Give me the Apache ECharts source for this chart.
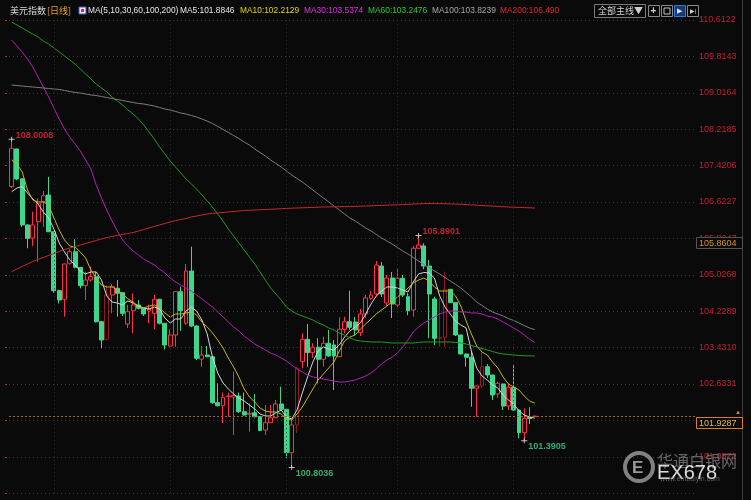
<!DOCTYPE html>
<html><head><meta charset="utf-8">
<script src="https://cdn.jsdelivr.net/npm/echarts@6/dist/echarts.min.js"></script>
<style>html,body{margin:0;padding:0;background:#0a0a0a;}#c{width:751px;height:500px;}</style>
</head><body><div id="c"></div>
<script>
// ---- data ----
const opens = [106.96,107.785,107.13,106.12,105.83,106.19,106.63,106.776,105.97,104.68,
104.49,105.28,105.533,105.19,104.79,104.913,104.985,104.00,103.613,104.584,
104.731,104.635,103.948,104.24,104.365,104.293,104.234,104.183,104.49,103.964,
103.466,103.707,104.657,103.964,105.11,103.905,103.18,103.268,103.231,102.223,
102.158,102.355,102.348,102.37,102.026,101.969,102.004,101.917,101.625,101.785,
101.895,102.195,102.079,101.128,101.734,103.122,103.613,103.32,103.438,103.175,
103.526,103.49,103.231,103.832,103.999,103.993,103.758,104.168,104.512,104.606,
105.219,104.409,104.957,104.365,104.95,104.547,104.255,105.608,105.66,105.219,
104.497,103.635,103.657,104.709,104.417,103.708,103.291,103.218,102.539,102.59,
103.012,102.831,102.414,102.633,102.15,102.561,102.063,101.566,101.903,101.92];
const closes = [107.80,107.127,106.12,105.827,106.12,106.594,106.76,105.97,104.678,104.475,
105.264,105.533,105.191,104.788,104.913,104.985,103.999,103.598,104.584,104.766,
104.621,104.183,104.218,104.365,104.293,104.168,104.266,104.49,103.964,103.488,
103.707,104.657,104.24,105.11,103.905,103.197,103.268,103.231,102.223,102.158,
102.342,102.37,102.381,102.026,101.954,101.991,101.917,101.614,101.785,101.895,
102.195,102.079,101.128,101.734,102.978,103.613,103.32,103.438,103.175,103.526,
103.247,103.247,103.832,103.999,103.876,103.817,104.168,104.52,104.584,105.241,
104.606,104.957,104.387,104.95,104.584,104.24,105.608,105.68,105.219,104.606,
103.635,103.657,104.709,104.417,103.708,103.291,103.218,102.539,102.59,103.012,
102.831,102.392,102.649,102.15,102.561,102.063,101.566,101.88,101.873,101.9287];
const lows = [106.93,107.10,106.075,105.608,105.66,105.314,106.08,105.965,104.635,104.40,
104.109,105.25,105.17,104.73,104.475,104.88,103.98,103.416,103.59,104.183,
104.109,104.124,103.86,103.745,104.27,104.124,103.964,103.832,103.94,103.393,
103.45,103.45,103.80,103.93,103.88,103.16,103.01,103.22,102.20,102.14,
101.772,101.917,101.515,102.0,101.94,101.588,101.90,101.60,101.515,101.78,
101.88,102.06,101.005,100.8036,101.56,102.978,103.012,103.203,102.649,103.012,
103.23,102.502,103.225,103.744,103.817,103.70,103.685,104.08,104.475,104.56,
104.54,104.343,104.08,104.32,104.54,104.14,104.11,105.60,105.147,103.635,
103.488,103.45,103.45,104.41,103.685,103.28,103.012,102.136,101.917,102.546,
102.764,102.283,102.326,102.063,102.063,102.04,101.443,101.3905,101.756,101.92];
const highs = [108.0008,107.79,107.14,106.13,106.41,106.70,106.864,107.177,105.975,104.70,
105.27,105.586,105.805,105.2,105.095,105.205,105.095,104.0,104.80,104.825,
104.913,104.65,104.37,104.62,104.47,104.30,104.37,104.584,104.50,103.97,
103.832,104.66,104.766,105.264,105.643,103.92,103.466,103.466,103.24,102.649,
102.446,102.446,102.903,102.446,102.446,102.21,102.414,101.93,102.173,102.173,
102.283,102.574,102.09,101.844,103.012,103.744,103.948,103.526,103.635,103.67,
103.817,103.598,104.096,104.109,104.678,104.10,104.28,104.584,104.672,105.33,
105.307,105.023,105.088,105.169,105.023,104.628,105.66,105.8901,105.717,105.35,
104.547,104.519,105.095,104.716,104.42,103.71,103.30,103.335,102.60,103.341,
103.07,102.84,102.683,102.64,102.649,103.05,102.07,102.10,102.123,101.94];

const ma5 = [106.848,106.929,106.962,106.820,106.688,106.579,106.403,106.272,106.031,105.724,
105.527,105.351,105.242,105.110,105.045,105.089,105.089,104.913,104.563,104.431,
104.409,104.365,104.453,104.409,104.343,104.299,104.277,104.321,104.277,104.080,
103.970,104.058,104.058,104.233,104.321,104.233,104.036,103.729,103.225,102.874,
102.655,102.524,102.414,102.327,102.261,102.173,102.085,101.976,101.932,101.932,
101.998,102.063,101.910,101.866,102.063,102.436,102.787,103.116,103.357,103.444,
103.400,103.379,103.488,103.663,103.795,103.883,103.970,104.168,104.387,104.562,
104.672,104.759,104.760,104.738,104.694,104.650,104.869,105.045,105.078,105.067,
104.957,104.563,104.321,104.168,104.014,103.927,103.861,103.357,102.984,102.809,
102.721,102.611,102.546,102.392,102.283,102.195,102.041,101.954,101.910,101.8846];
const ma10 = [107.543,107.456,107.280,106.886,106.667,106.623,106.623,106.557,106.272,106.009,
105.790,105.658,105.636,105.527,105.395,105.132,104.957,104.803,104.760,104.760,
104.694,104.606,104.497,104.431,104.321,104.299,104.343,104.365,104.299,104.190,
104.102,104.168,104.168,104.190,104.212,104.146,103.992,103.883,103.751,103.598,
103.422,103.203,103.006,102.787,102.524,102.348,102.239,102.107,102.041,102.019,
102.019,101.976,101.866,101.844,101.976,102.129,102.327,102.524,102.721,102.853,
102.984,103.116,103.357,103.576,103.663,103.707,103.839,103.948,104.058,104.168,
104.255,104.343,104.431,104.541,104.628,104.738,104.847,104.913,104.957,104.891,
104.760,104.672,104.672,104.672,104.563,104.343,104.014,103.729,103.466,103.335,
103.269,103.116,102.984,102.787,102.633,102.567,102.502,102.370,102.261,102.2129];
const ma30 = [110.174,110.042,109.911,109.757,109.582,109.363,109.144,108.924,108.683,108.442,
108.223,108.047,107.894,107.741,107.543,107.346,106.995,106.710,106.447,106.206,
105.987,105.790,105.658,105.549,105.461,105.373,105.307,105.242,105.154,105.066,
104.957,104.869,104.803,104.738,104.672,104.584,104.497,104.409,104.321,104.212,
104.102,103.992,103.883,103.795,103.685,103.598,103.510,103.444,103.379,103.313,
103.269,103.203,103.137,103.050,102.962,102.896,102.831,102.787,102.765,102.743,
102.721,102.699,102.677,102.677,102.699,102.721,102.765,102.809,102.874,102.962,
103.072,103.159,103.225,103.313,103.444,103.598,103.773,103.883,103.970,104.036,
104.102,104.168,104.212,104.233,104.233,104.212,104.212,104.190,104.190,104.168,
104.124,104.102,104.058,103.992,103.927,103.861,103.795,103.707,103.620,103.5374];
const ma60 = [110.568,110.503,110.437,110.371,110.305,110.240,110.152,110.086,109.998,109.911,
109.823,109.735,109.648,109.538,109.429,109.319,109.209,109.122,109.034,108.924,
108.837,108.749,108.639,108.552,108.442,108.311,108.157,108.004,107.828,107.675,
107.522,107.390,107.259,107.127,107.017,106.908,106.776,106.645,106.513,106.360,
106.206,106.031,105.877,105.724,105.571,105.417,105.264,105.089,104.913,104.738,
104.606,104.475,104.321,104.233,104.168,104.124,104.080,104.036,103.970,103.927,
103.861,103.817,103.751,103.707,103.642,103.598,103.576,103.565,103.554,103.554,
103.554,103.543,103.532,103.532,103.532,103.532,103.532,103.543,103.554,103.554,
103.554,103.554,103.554,103.554,103.543,103.532,103.510,103.477,103.444,103.411,
103.379,103.346,103.313,103.291,103.280,103.269,103.258,103.253,103.250,103.2476];
const ma100 = [109.187,109.176,109.165,109.154,109.144,109.133,109.122,109.111,109.100,109.089,
109.067,109.045,109.023,109.012,108.990,108.968,108.957,108.935,108.913,108.891,
108.870,108.848,108.826,108.804,108.782,108.771,108.749,108.727,108.694,108.661,
108.639,108.607,108.574,108.552,108.519,108.486,108.442,108.398,108.343,108.278,
108.212,108.146,108.080,108.015,107.938,107.872,107.784,107.708,107.631,107.543,
107.467,107.390,107.302,107.215,107.138,107.061,106.973,106.886,106.798,106.710,
106.623,106.535,106.447,106.360,106.272,106.206,106.130,106.053,105.987,105.910,
105.834,105.768,105.702,105.626,105.549,105.483,105.406,105.329,105.253,105.187,
105.110,105.045,104.968,104.891,104.815,104.738,104.639,104.540,104.431,104.354,
104.277,104.211,104.168,104.124,104.069,104.025,103.970,103.915,103.861,103.8239];
const ma200 = [105.095,105.154,105.209,105.264,105.319,105.362,105.406,105.450,105.494,105.538,
105.582,105.614,105.647,105.680,105.713,105.746,105.779,105.812,105.845,105.867,
105.889,105.911,105.932,105.954,105.987,106.020,106.053,106.086,106.119,106.152,
106.184,106.217,106.239,106.261,106.294,106.316,106.338,106.360,106.371,106.382,
106.393,106.404,106.415,106.425,106.436,106.441,106.447,106.452,106.458,106.463,
106.469,106.476,106.482,106.487,106.491,106.496,106.500,106.504,106.509,106.513,
106.515,106.518,106.520,106.522,106.524,106.526,106.531,106.535,106.539,106.544,
106.548,106.553,106.557,106.561,106.566,106.572,106.579,106.583,106.587,106.590,
106.590,106.587,106.585,106.581,106.576,106.572,106.566,106.559,106.553,106.546,
106.539,106.533,106.526,106.520,106.513,106.509,106.504,106.500,106.496,106.490];

const tickLabels = ['101.0372','101.8352','102.6331','103.4310','104.2289','105.0268','105.8247',
  '106.6227','107.4206','108.2185','109.0164','109.8143','110.6122'];
const axisMin = 100.2395, axisMax = 110.6122, axisStep = 0.7979;
const maHeader = ['MA5:101.8846','MA10:102.2129','MA30:103.5374','MA60:103.2476','MA100:103.8239','MA200:106.490'];
const refPrice = 105.8604;
const extremeIdx = [0, 77, 53, 97];      // bars whose high/low is annotated
const extremeIsHigh = [true, true, false, false];
const monthStartIdx = [8, 30, 52, 73, 95];
const darkUpIdx = [18, 54, 81, 82, 89];

// ---- build chart ----
const N = opens.length, SLOTS = 130;
const categories = Array.from({length: SLOTS}, (_, i) => 'D' + (i + 1));
const candleData = opens.map((o, i) => {
  const v = [o, closes[i], lows[i], highs[i]];
  return darkUpIdx.includes(i) ? {value: v, itemStyle: {borderColor: '#8e1b26'}} : v;
});
const lastPrice = closes[N - 1];
const extremeData = extremeIdx.map((i, k) => ({
  value: [categories[i], extremeIsHigh[k] ? highs[i] : lows[i]],
  label: {
    color: extremeIsHigh[k] ? '#e8283c' : '#3dd68c',
    offset: extremeIsHigh[k] ? [0, -4] : [0, 6]
  }
}));
const maDefs = [
  {name: 'MA5', data: ma5, color: '#d6d6d6', head: '#e6e6e6'},
  {name: 'MA10', data: ma10, color: '#c9b800', head: '#e6d400'},
  {name: 'MA30', data: ma30, color: '#b41fb4', head: '#e030e0'},
  {name: 'MA60', data: ma60, color: '#229a22', head: '#2ccc2c'},
  {name: 'MA100', data: ma100, color: '#7c7c7c', head: '#a8a8a8'},
  {name: 'MA200', data: ma200, color: '#c82828', head: '#e62828'}
];
const NUM = '"Liberation Sans", Arial, sans-serif';
const CJK = '"Noto Sans CJK SC", sans-serif';

const chart = echarts.init(document.getElementById('c'));
const yCommon = {type: 'value', min: axisMin, max: axisMax, interval: axisStep, scale: true};
const option = {
  backgroundColor: '#0a0a0a',
  animation: false,
  grid: {left: 9, right: 55, top: 20, bottom: 6.8},
  xAxis: {type: 'category', data: categories, boundaryGap: true, show: false},
  yAxis: [
    Object.assign({}, yCommon, {
      position: 'right',
      axisLine: {show: false}, axisTick: {show: false},
      axisLabel: {color: '#c81e32', fontSize: 9, fontFamily: 'Liberation Sans', margin: 3,
        formatter: v => tickLabels.find(t => Math.abs(parseFloat(t) - v) < 0.02) || ''},
      splitLine: {show: true, lineStyle: {color: '#3a3a3a', type: [1, 3], width: 1}}
    }),
    Object.assign({}, yCommon, {
      position: 'left', offset: 4,
      axisLine: {show: false}, axisLabel: {show: false}, splitLine: {show: false},
      axisTick: {show: true, inside: true, length: 2, lineStyle: {color: '#c81e32'}}
    })
  ],
  series: [
    {type: 'line', data: [], z: 1, silent: true,
      markLine: {silent: true, symbol: ['none', 'none'], label: {show: false},
        lineStyle: {color: '#2e2e2e', type: [1, 3], width: 1},
        data: monthStartIdx.map(i => ({xAxis: categories[i]}))}},
    {type: 'candlestick', data: candleData, barWidth: 4.4, z: 2,
      itemStyle: {color: '#0a0a0a', color0: '#3dd68c', borderColor: '#ff3048', borderColor0: '#3dd68c', borderWidth: 1},
      markLine: {silent: true, symbol: ['none', 'none'], label: {show: false},
        lineStyle: {color: '#a0682e', type: [2, 2], width: 1},
        data: [{yAxis: lastPrice}]}}
  ].concat(maDefs.map(m => ({
    type: 'line', name: m.name, data: m.data, showSymbol: false, symbol: 'none', z: 3,
    lineStyle: {color: m.color, width: 1}
  }))).concat([{
    type: 'scatter', data: extremeData, z: 5,
    symbol: 'path://M0,2L6,2L6,3L0,3Z M2.5,0L3.5,0L3.5,5L2.5,5Z', symbolSize: [6, 5],
    itemStyle: {color: '#f0f0f0'},
    label: {show: true, position: 'right', distance: 1, fontSize: 9, fontWeight: 'bold', fontFamily: 'Liberation Sans',
      formatter: p => p.value[1].toFixed(4)}
  }])
};
chart.setOption(option);

// ---- annotations (positions from the axis scale) ----
const yCur = chart.convertToPixel({yAxisIndex: 0}, lastPrice);
const yRef = chart.convertToPixel({yAxisIndex: 0}, refPrice);
function txt(x, y, s, fill, font, extra) {
  return Object.assign({type: 'text', x: x, y: y, silent: true,
    style: {text: s, fill: fill, font: font, textVerticalAlign: 'middle'}}, extra || {});
}
const HF = '8.4px ' + NUM;
const headerX = [180, 240, 304, 368, 432, 500];
const g = [
  {type: 'rect', shape: {x: 0, y: 0, width: 751, height: 19}, style: {fill: '#0a0a0a'}, z: 0, silent: true},
  txt(10, 11, '美元指数', '#d8d8d8', '9px ' + CJK),
  txt(47, 11, '[日线]', '#e8a020', '9px ' + CJK),
  {type: 'rect', shape: {x: 79, y: 7, width: 7, height: 7}, style: {fill: '#e8e8f4', stroke: '#3060d0', lineWidth: 1}, silent: true},
  {type: 'rect', shape: {x: 81, y: 9, width: 3, height: 3}, style: {fill: '#d03030'}, silent: true},
  txt(88, 11, 'MA(5,10,30,60,100,200)', '#e6e6e6', HF),
  {type: 'rect', shape: {x: 594.5, y: 4.5, width: 51, height: 13}, style: {fill: 'none', stroke: '#7a7a7a', lineWidth: 1}, silent: true},
  txt(598, 11, '全部主线▼', '#d0d0d0', '9px ' + CJK),
  {type: 'rect', shape: {x: 648.5, y: 5.5, width: 11, height: 11}, style: {fill: 'none', stroke: '#8a8a8a'}, silent: true},
  txt(650.5, 11, '+', '#d0d0d0', 'bold 10px ' + NUM),
  {type: 'rect', shape: {x: 661.5, y: 5.5, width: 11, height: 11}, style: {fill: 'none', stroke: '#8a8a8a'}, silent: true},
  {type: 'rect', shape: {x: 664, y: 8, width: 6, height: 6}, style: {fill: 'none', stroke: '#c0c0c0'}, silent: true},
  {type: 'rect', shape: {x: 674.5, y: 5.5, width: 11, height: 11}, style: {fill: '#163a78', stroke: '#2f7ce0'}, silent: true},
  txt(677, 11, '▶', '#e0e0e0', '7px ' + NUM),
  {type: 'rect', shape: {x: 687.5, y: 5.5, width: 11, height: 11}, style: {fill: 'none', stroke: '#8a8a8a'}, silent: true},
  txt(689.5, 11, '▶|', '#d0d0d0', '6px ' + NUM),
  {type: 'line', shape: {x1: 742.5, y1: 0, x2: 742.5, y2: 500}, style: {stroke: '#3c3c3c', lineWidth: 1}, silent: true},
  // price boxes
  {type: 'rect', shape: {x: 696.5, y: Math.round(yCur) + 1.5, width: 46, height: 11}, style: {fill: '#0a0a0a', stroke: '#d8801e', lineWidth: 1}, z: 10, silent: true},
  txt(699, Math.round(yCur) + 7.5, lastPrice.toFixed(4), '#f0b850', '9px ' + NUM, {z: 11}),
  {type: 'rect', shape: {x: 696.5, y: Math.round(yRef) + 0.5, width: 46, height: 11}, style: {fill: '#0a0a0a', stroke: '#555', lineWidth: 1}, z: 10, silent: true},
  txt(699, Math.round(yRef) + 6.5, refPrice.toFixed(4), '#d8962c', '9px ' + NUM, {z: 11}),
  txt(735, Math.round(yCur) - 4, '▲', '#e08a20', '6px ' + NUM, {z: 11}),
  // watermark
  {type: 'circle', shape: {cx: 639, cy: 467, r: 14}, style: {fill: 'none', stroke: 'rgba(170,170,170,0.75)', lineWidth: 4}, z: 20, silent: true},
  txt(632, 468, 'E', 'rgba(190,190,190,0.8)', 'bold 17px ' + NUM, {z: 20}),
  txt(657, 461, '华通白银网', 'rgba(140,140,140,0.7)', '16px ' + CJK, {z: 20}),
  txt(657, 473, 'EX678', 'rgba(235,235,235,0.92)', '20px ' + NUM, {z: 21}),
  txt(660, 479, 'www.ehtbaiyin.com', 'rgba(150,150,150,0.6)', '7px ' + NUM, {z: 21})
];
maDefs.forEach((m, k) => g.push(txt(headerX[k], 11, maHeader[k], m.head, HF)));
chart.setOption({graphic: g});
</script></body></html>
